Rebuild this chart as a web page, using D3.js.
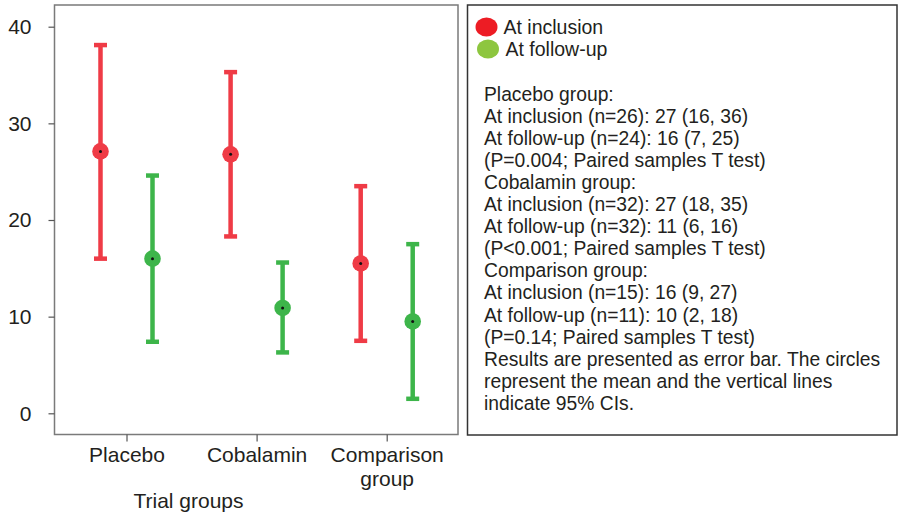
<!DOCTYPE html>
<html>
<head>
<meta charset="utf-8">
<script src="https://cdn.jsdelivr.net/npm/d3@7"></script>
<style>
  html, body { margin: 0; padding: 0; background: #fff; }
  svg { display: block; font-family: "Liberation Sans", Arial, Helvetica, sans-serif; }
</style>
</head>
<body>
<svg id="chart" width="901" height="516"></svg>
<script>
// ---- Data ----
const groups = ["Placebo", "Cobalamin", "Comparison group"];
const groupLabels = [["Placebo"], ["Cobalamin"], ["Comparison", "group"]];
const series = ["At inclusion", "At follow-up"];
const inclusionMean = [27.1, 26.8, 15.5];
const inclusionLow  = [16.0, 18.3, 7.5];
const inclusionHigh = [38.1, 35.3, 23.5];
const followMean = [16.0, 10.9, 9.5];
const followLow  = [7.4, 6.3, 1.5];
const followHigh = [24.6, 15.6, 17.5];
const yTicks = [0, 10, 20, 30, 40];
const xTitle = "Trial groups";
const notes = [
  "Placebo group:",
  "At inclusion (n=26): 27 (16, 36)",
  "At follow-up (n=24): 16 (7, 25)",
  "(P=0.004; Paired samples T test)",
  "Cobalamin group:",
  "At inclusion (n=32): 27 (18, 35)",
  "At follow-up (n=32): 11 (6, 16)",
  "(P<0.001; Paired samples T test)",
  "Comparison group:",
  "At inclusion (n=15): 16 (9, 27)",
  "At follow-up (n=11): 10 (2, 18)",
  "(P=0.14; Paired samples T test)",
  "Results are presented as error bar. The circles",
  "represent the mean and the vertical lines",
  "indicate 95% CIs."
];

// ---- Styles ----
const FONT = "'Liberation Sans', Arial, Helvetica, sans-serif";
const barColors = ["#EF3B46", "#3DB54A"];
const legendColors = ["#ED1C24", "#8DC63F"];

const svg = d3.select("#chart");

// plot frame geometry
const frame = {x0: 54.5, x1: 458, y0: 5, y1: 434.5};

const y = d3.scaleLinear().domain([0, 40]).range([413.3, 26.7]);
const x = d3.scalePoint().domain(groups).range([126.5, 386.7]);
const off = d3.scalePoint().domain(series).range([-26, 26]);

// frame
svg.append("rect")
  .attr("x", frame.x0).attr("y", frame.y0)
  .attr("width", frame.x1 - frame.x0).attr("height", frame.y1 - frame.y0)
  .attr("fill", "none").attr("stroke", "#7a7a7a").attr("stroke-width", 1.5);

// y axis
const yAxis = svg.append("g")
  .attr("transform", `translate(${frame.x0},0)`)
  .call(d3.axisLeft(y).tickValues(yTicks).tickSize(6).tickPadding(17).tickFormat(d3.format("d")))
  .attr("font-family", FONT).attr("font-size", 21);
yAxis.select(".domain").remove();
yAxis.selectAll(".tick line").attr("stroke", "#555").attr("stroke-width", 1.2);
yAxis.selectAll(".tick text").attr("fill", "#231f20");

// x axis
const xAxis = svg.append("g")
  .attr("transform", `translate(0,${frame.y1})`)
  .call(d3.axisBottom(x).tickSize(7).tickFormat(""))
  .attr("font-family", FONT).attr("font-size", 21);
xAxis.select(".domain").remove();
xAxis.selectAll(".tick line").attr("stroke", "#555").attr("stroke-width", 1.2);
xAxis.selectAll(".tick").each(function(d, i) {
  const t = d3.select(this).append("text")
    .attr("text-anchor", "middle").attr("fill", "#231f20");
  groupLabels[i].forEach((ln, k) => {
    t.append("tspan").attr("x", 0).attr("y", 27 + k * 24.5).text(ln);
  });
});

svg.append("text")
  .attr("x", 188.5).attr("y", 507.5)
  .attr("text-anchor", "middle").attr("font-size", 21).attr("fill", "#231f20")
  .text(xTitle);

// error bars
const data = [];
groups.forEach((g, i) => {
  data.push({g, s: series[0], mean: inclusionMean[i], lo: inclusionLow[i], hi: inclusionHigh[i], c: barColors[0]});
  data.push({g, s: series[1], mean: followMean[i], lo: followLow[i], hi: followHigh[i], c: barColors[1]});
});

const eb = svg.append("g").selectAll("g").data(data).join("g")
  .attr("transform", d => `translate(${x(d.g) + off(d.s)},0)`);
eb.append("line")
  .attr("x1", 0).attr("x2", 0)
  .attr("y1", d => y(d.hi)).attr("y2", d => y(d.lo))
  .attr("stroke", d => d.c).attr("stroke-width", 4.5);
eb.append("line")
  .attr("x1", -6.5).attr("x2", 6.5)
  .attr("y1", d => y(d.hi)).attr("y2", d => y(d.hi))
  .attr("stroke", d => d.c).attr("stroke-width", 4.5);
eb.append("line")
  .attr("x1", -6.5).attr("x2", 6.5)
  .attr("y1", d => y(d.lo)).attr("y2", d => y(d.lo))
  .attr("stroke", d => d.c).attr("stroke-width", 4.5);
eb.append("circle")
  .attr("cx", 0).attr("cy", d => y(d.mean)).attr("r", 8.3)
  .attr("fill", d => d.c);
eb.append("circle")
  .attr("cx", 0).attr("cy", d => y(d.mean)).attr("r", 1.5)
  .attr("fill", "#111");

// legend box
const lg = svg.append("g");
lg.append("rect")
  .attr("x", 467.5).attr("y", 5).attr("width", 429.5).attr("height", 430)
  .attr("fill", "#fff").attr("stroke", "#333").attr("stroke-width", 1.5);

series.forEach((s, i) => {
  lg.append("ellipse")
    .attr("cx", 486.5 + i * 1.5).attr("cy", 27 + i * 22)
    .attr("rx", 11).attr("ry", 9.5)
    .attr("fill", legendColors[i]);
  lg.append("text")
    .attr("x", 503.5 + i * 2).attr("y", 33.5 + i * 22)
    .attr("font-size", 19.5).attr("fill", "#231f20")
    .text(s);
});

lg.append("g").selectAll("text").data(notes).join("text")
  .attr("x", 484).attr("y", (d, i) => 100.5 + i * 22.1)
  .attr("font-size", 19.3).attr("fill", "#231f20")
  .text(d => d);
</script>
</body>
</html>
